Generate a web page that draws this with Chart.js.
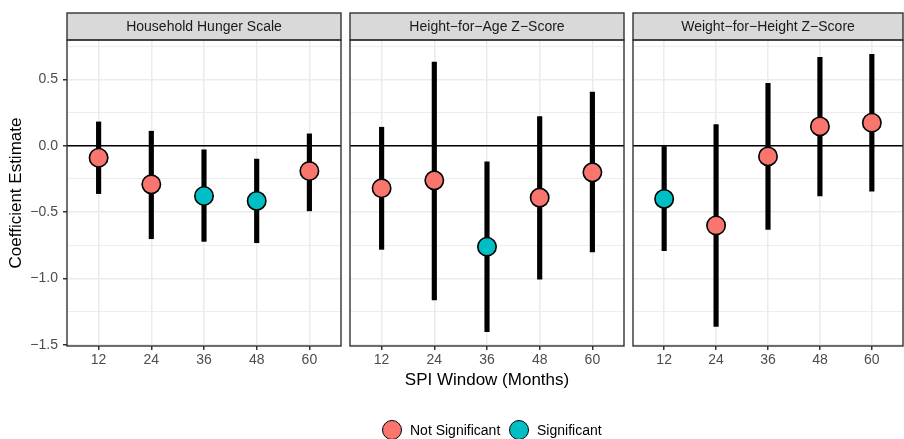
<!DOCTYPE html>
<html>
<head>
<meta charset="utf-8">
<script src="https://cdn.jsdelivr.net/npm/chart.js@4.4.1/dist/chart.umd.min.js"></script>
<style>
  html, body { margin: 0; padding: 0; background: #fff; }
  #wrap { position: relative; width: 904px; height: 439px; overflow: hidden; font-family: "Liberation Sans", Arial, sans-serif; }
  canvas { position: absolute; top: 0; }
  .key { position: absolute; top: 420px; width: 20px; height: 20px; box-sizing: border-box; border: 1.6px solid #000; border-radius: 50%; }
  .keylab { position: absolute; top: 421px; font-size: 14px; line-height: 18px; color: #000; white-space: nowrap; }
</style>
</head>
<body>
<div id="wrap">
  <canvas id="c1" width="345" height="439" style="left:0px"></canvas>
  <canvas id="c2" width="283" height="439" style="left:345px"></canvas>
  <canvas id="c3" width="276" height="439" style="left:628px"></canvas>
  <div class="key" style="left:382px; background:#F8766D"></div>
  <div class="keylab" style="left:410px">Not Significant</div>
  <div class="key" style="left:509px; background:#00BFC4"></div>
  <div class="keylab" style="left:537px">Significant</div>
</div>
<script>
// --- Data
const windows = [12, 24, 36, 48, 60];
const panelTitles = ["Household Hunger Scale", "Height\u2212for\u2212Age Z\u2212Score", "Weight\u2212for\u2212Height Z\u2212Score"];

const hhsEst  = [-0.09, -0.29, -0.378, -0.415, -0.19];
const hhsLow  = [-0.36, -0.70, -0.72, -0.73, -0.49];
const hhsHigh = [0.18, 0.11, -0.03, -0.10, 0.09];
const hhsSig  = [0, 0, 1, 1, 0];

const hazEst  = [-0.32, -0.26, -0.76, -0.39, -0.20];
const hazLow  = [-0.78, -1.16, -1.40, -1.005, -0.80];
const hazHigh = [0.14, 0.63, -0.12, 0.22, 0.405];
const hazSig  = [0, 0, 1, 0, 0];

const whzEst  = [-0.40, -0.60, -0.08, 0.146, 0.174];
const whzLow  = [-0.79, -1.36, -0.63, -0.377, -0.342];
const whzHigh = [0.00, 0.16, 0.47, 0.667, 0.689];
const whzSig  = [1, 0, 0, 0, 0];

const yTicks = [-1.5, -1.25, -1, -0.75, -0.5, -0.25, 0, 0.25, 0.5, 0.75];
const refLine = 0;

// axis limits (ggplot expansion)
const xMin = 4.8, xMax = 67.2;
const yMin = -1.508, yMax = 0.797;

const FONT = '"Liberation Sans", Arial, sans-serif';
const RED = "#F8766D", TEAL = "#00BFC4";

function isMajor(v){ return Math.abs(v * 2 - Math.round(v * 2)) < 1e-9; }
function fmtY(v){ return v.toFixed(1).replace("-", "\u2212"); }

// strip + panel border
const panelFrame = {
  id: "panelFrame",
  afterDraw(chart, args, o){
    const {ctx, chartArea: a} = chart;
    ctx.save();
    ctx.lineWidth = 1.4;
    ctx.strokeStyle = "#333333";
    ctx.fillStyle = "#D9D9D9";
    ctx.fillRect(a.left, 13, a.right - a.left, a.top - 13);
    ctx.strokeRect(a.left, 13, a.right - a.left, a.top - 13);
    ctx.strokeRect(a.left, a.top, a.right - a.left, a.bottom - a.top);
    ctx.fillStyle = "#1A1A1A";
    ctx.font = "14px " + FONT;
    ctx.textAlign = "center";
    ctx.textBaseline = "middle";
    ctx.fillText(o.title, (a.left + a.right) / 2, (13 + a.top) / 2 + 0.5);
    ctx.restore();
  }
};

function makePanel(id, idx, est, lo, hi, sig, geo){
  const pts = windows.map((w, i) => ({x: w, y: est[i], s: sig[i]}));
  return new Chart(document.getElementById(id), {
    type: "scatter",
    data: {
      datasets: [
        {
          type: "scatter", label: "Not Significant", order: 0,
          data: pts.filter(p => !p.s).map(p => ({x: p.x, y: p.y})),
          backgroundColor: RED, borderColor: "#000", borderWidth: 1.6, pointRadius: 9.2
        },
        {
          type: "scatter", label: "Significant", order: 0,
          data: pts.filter(p => p.s).map(p => ({x: p.x, y: p.y})),
          backgroundColor: TEAL, borderColor: "#000", borderWidth: 1.6, pointRadius: 9.2
        },
        {
          type: "bar", label: "CI", order: 1,
          data: windows.map((w, i) => ({x: w, y: [lo[i], hi[i]]})),
          backgroundColor: "#000", barThickness: 4.5, grouped: false
        },
        {
          type: "line", label: "zero", order: 2, showLine: true,
          data: [{x: xMin, y: refLine}, {x: xMax, y: refLine}],
          borderColor: "#000", borderWidth: 1.6, pointRadius: 0
        }
      ]
    },
    options: {
      responsive: false,
      animation: false,
      layout: { autoPadding: false, padding: { top: 40, bottom: 43, left: geo.padL, right: geo.padR } },
      plugins: {
        legend: { display: false },
        tooltip: { enabled: false },
        panelFrame: { title: panelTitles[idx] }
      },
      scales: {
        x: {
          type: "linear", min: xMin, max: xMax, offset: false,
          afterBuildTicks: s => { s.ticks = windows.map(v => ({value: v})); },
          afterFit: s => { s.height = 50; s.paddingLeft = 0; s.paddingRight = 0; },
          border: { display: false },
          grid: { offset: false, color: "#EBEBEB", lineWidth: 1.5, tickColor: "#333333", tickLength: 4, drawTicks: true },
          ticks: { autoSkip: false, maxRotation: 0, padding: 2, color: "#4D4D4D", font: { family: FONT, size: 14 } },
          title: {
            display: geo.xTitle, text: "SPI Window (Months)", color: "#000",
            font: { family: FONT, size: 17 }, padding: { top: 0, bottom: 5 }
          }
        },
        y: {
          type: "linear", min: yMin, max: yMax,
          afterBuildTicks: s => { s.ticks = yTicks.map(v => ({value: v})); },
          afterFit: s => { s.width = geo.yWidth; s.paddingTop = 0; s.paddingBottom = 0; },
          border: { display: false },
          grid: {
            color: "#EBEBEB",
            lineWidth: c => (c.tick && isMajor(c.tick.value)) ? 1.5 : 0.9,
            tickColor: c => (c.tick && isMajor(c.tick.value)) ? "#333333" : "rgba(0,0,0,0)",
            tickLength: 4,
            drawTicks: geo.yLabels
          },
          ticks: {
            display: geo.yLabels, autoSkip: false, padding: 5, color: "#4D4D4D",
            font: { family: FONT, size: 14 },
            callback: v => isMajor(v) ? fmtY(v) : ""
          },
          title: {
            display: geo.yLabels, text: "Coefficient Estimate", color: "#000",
            font: { family: FONT, size: 17 }, padding: { top: 6, bottom: 0 }
          }
        }
      }
    },
    plugins: [panelFrame]
  });
}

makePanel("c1", 0, hhsEst, hhsLow, hhsHigh, hhsSig, { padL: 0, padR: 4, yWidth: 67, yLabels: true, xTitle: false });
makePanel("c2", 1, hazEst, hazLow, hazHigh, hazSig, { padL: 5, padR: 4, yWidth: 0, yLabels: false, xTitle: true });
makePanel("c3", 2, whzEst, whzLow, whzHigh, whzSig, { padL: 5, padR: 1, yWidth: 0, yLabels: false, xTitle: false });
</script>
</body>
</html>
